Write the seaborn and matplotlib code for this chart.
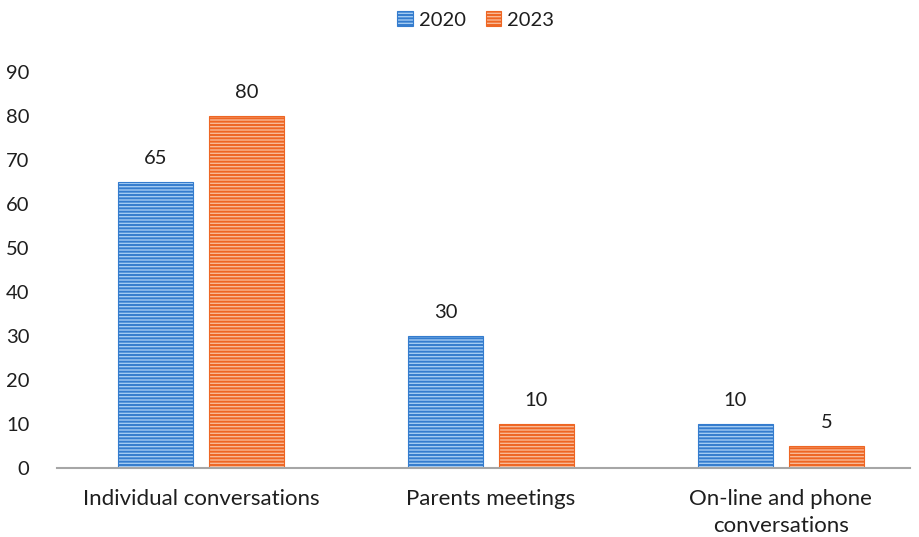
import matplotlib
matplotlib.use("Agg")
import matplotlib.pyplot as plt
from matplotlib.patches import Patch
import seaborn as sns
import pandas as pd

categories = ["Individual conversations", "Parents meetings", "On-line and phone\nconversations"]
years = ["2020", "2023"]
values_2020 = [65, 30, 10]
values_2023 = [80, 10, 5]
y_ticks = [0, 10, 20, 30, 40, 50, 60, 70, 80, 90]

df = pd.DataFrame({
    "category": categories * 2,
    "year": [years[0]] * 3 + [years[1]] * 3,
    "value": values_2020 + values_2023,
})

sns.set_theme(style="white")
plt.rcParams["font.family"] = ["Lato", "DejaVu Sans"]
plt.rcParams["hatch.linewidth"] = 1.4

face = {"2020": "#a3cbf2", "2023": "#f9b996"}
line = {"2020": "#347cce", "2023": "#ee6623"}
txt = "#1e1e1e"

fig = plt.figure(figsize=(9.2, 5.37), dpi=100)
ax = fig.add_axes([0.062, 0.1285, 0.927, 0.7375])

sns.barplot(data=df, x="category", y="value", hue="year", order=categories,
            hue_order=years, palette=face, width=0.628, gap=0.176,
            ax=ax, legend=False, errorbar=None)

for container, yr in zip(ax.containers, years):
    for p in container:
        p.set_facecolor(face[yr])
        p.set_edgecolor(line[yr])
        p.set_linewidth(0.8)
        p.set_hatch("-----")
    ax.bar_label(container, fmt="%d", padding=11, fontsize=14.5, color=txt)

ax.set_ylim(0, 90)
ax.set_xlim(-0.497, 2.445)
ax.set_yticks(y_ticks)
ax.tick_params(axis="y", labelsize=14.5, colors=txt, length=0, pad=20)
ax.tick_params(axis="x", labelsize=16, colors=txt, length=0, pad=15)
for lbl in ax.get_xticklabels():
    lbl.set_linespacing(1.45)
ax.set_xlabel("")
ax.set_ylabel("")
for s in ["top", "right", "left"]:
    ax.spines[s].set_visible(False)
ax.spines["bottom"].set_color("#a6a6a6")
ax.spines["bottom"].set_linewidth(1.5)

handles = [Patch(facecolor=face[y], edgecolor=line[y], hatch="-----", linewidth=0.8) for y in years]
fig.legend(handles, years, loc="center", bbox_to_anchor=(0.517, 0.963), ncol=2,
           frameon=False, fontsize=14.5, handlelength=0.75, handleheight=0.75,
           handletextpad=0.3, columnspacing=1.0, labelcolor=txt)

fig.savefig("out.png", dpi=100)
